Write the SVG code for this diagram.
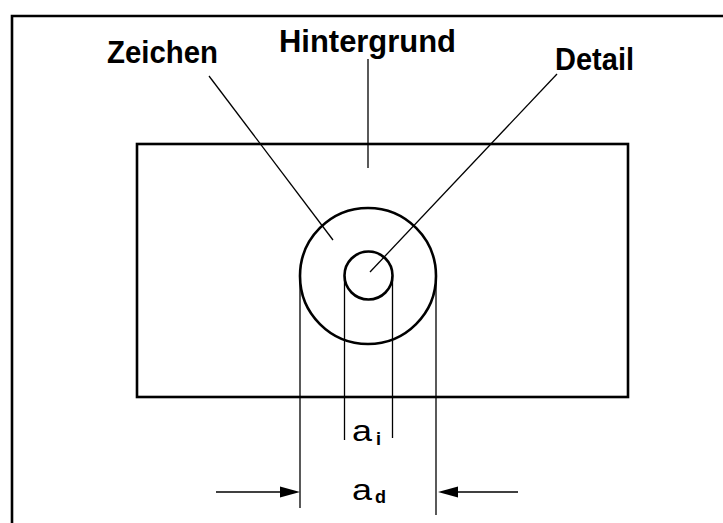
<svg xmlns="http://www.w3.org/2000/svg" width="723" height="523" viewBox="0 0 723 523">
<style>
.lbl{font-family:"Liberation Sans",Arial,sans-serif;font-weight:bold;font-size:31px;fill:#000}
.dim{font-family:"Liberation Sans",Arial,sans-serif;font-size:30px;fill:#000}
.sub{font-family:"Liberation Sans",Arial,sans-serif;font-weight:bold;font-size:18px;fill:#000}
.thin{stroke:#000;stroke-width:1.3;fill:none}
.thick{stroke:#000;stroke-width:2.6;fill:none}
</style>
<rect width="723" height="523" fill="#fff"/>
<g id="frame">
<polyline class="thick" points="12,523 12,16 723,16" stroke-width="3"/>
</g>
<g id="hintergrund">
<rect class="thick" x="137" y="144" width="491" height="253"/>
<text class="lbl" x="279" y="52" textLength="177" lengthAdjust="spacingAndGlyphs">Hintergrund</text>
</g>
<g id="zeichen">
<circle class="thick" cx="368" cy="276" r="68" stroke-width="3"/>
<text class="lbl" x="107" y="63" textLength="111" lengthAdjust="spacingAndGlyphs">Zeichen</text>
</g>
<g id="detail">
<circle class="thick" cx="368.5" cy="275.5" r="24" stroke-width="3"/>
<text class="lbl" x="555" y="70" textLength="79" lengthAdjust="spacingAndGlyphs">Detail</text>
</g>
<g id="connectors">
<line class="thin" x1="209" y1="76" x2="333" y2="240"/>
<line class="thin" x1="368" y1="59" x2="368" y2="168"/>
<line class="thin" x1="557" y1="74" x2="370" y2="272"/>
<line class="thin" x1="300" y1="276" x2="300" y2="508"/>
<line class="thin" x1="436" y1="276" x2="436" y2="515"/>
<line class="thin" x1="344.5" y1="276" x2="344.5" y2="440"/>
<line class="thin" x1="392.5" y1="276" x2="392.5" y2="438"/>
<line class="thin" x1="216" y1="492" x2="282" y2="492"/>
<polygon points="300,492 280,486.5 280,497.5" fill="#000"/>
<line class="thin" x1="456" y1="492" x2="518" y2="492"/>
<polygon points="438,492 458,486.5 458,497.5" fill="#000"/>
</g>
<g id="dimensions">
<text class="dim" x="352" y="441" textLength="20" lengthAdjust="spacingAndGlyphs">a</text><text class="sub" x="376" y="445">i</text>
<text class="dim" x="352" y="500" textLength="20" lengthAdjust="spacingAndGlyphs">a</text><text class="sub" x="375" y="503">d</text>
</g>
</svg>
